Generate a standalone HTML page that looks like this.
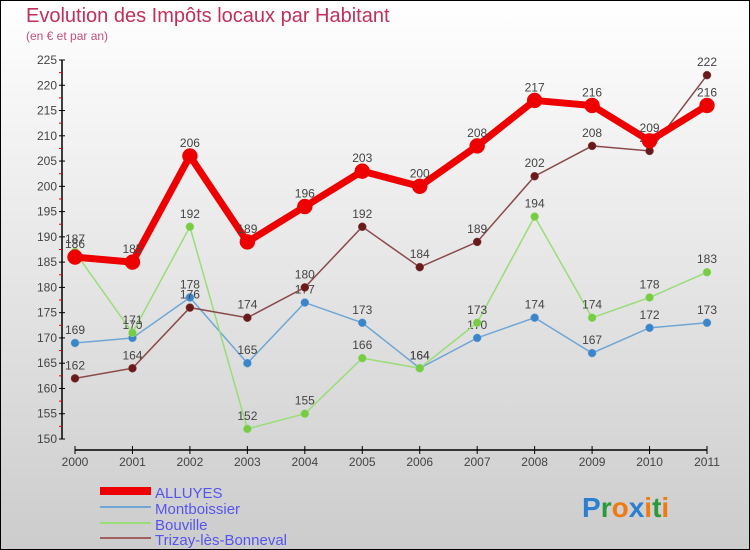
<!DOCTYPE html>
<html><head><meta charset="utf-8"><style>
body{margin:0}
#c{width:750px;height:550px;position:relative;overflow:hidden}
svg text{font-family:"Liberation Sans",sans-serif}
</style></head><body>
<div id="c">
<svg id="s" width="750" height="550" xmlns="http://www.w3.org/2000/svg">
<defs><linearGradient id="bg" x1="0" y1="0" x2="0" y2="1"><stop offset="0" stop-color="#ffffff"/><stop offset="1" stop-color="#cccccc"/></linearGradient></defs>
<rect x="0.5" y="0.5" width="749" height="549" fill="url(#bg)" stroke="#000"/>
<text x="26" y="22" font-size="20" fill="#c0305a">Evolution des Impôts locaux par Habitant</text>
<text x="26" y="40" font-size="12" fill="#c0507a">(en € et par an)</text>
<g id="axes"></g><g id="series"></g>
<g>
<rect x="100" y="487" width="51" height="8" fill="#e00"/>
<line x1="100" y1="507" x2="151" y2="507" stroke="#6fa6d6" stroke-width="2"/>
<line x1="100" y1="523" x2="151" y2="523" stroke="#99dd77" stroke-width="2"/>
<line x1="100" y1="538" x2="151" y2="538" stroke="#a06060" stroke-width="2"/>
<text x="155" y="498" font-size="15" fill="#5555ee">ALLUYES</text>
<text x="155" y="514" font-size="15" fill="#5555ee">Montboissier</text>
<text x="155" y="530" font-size="15" fill="#5555ee">Bouville</text>
<text x="155" y="545" font-size="15" fill="#5555ee">Trizay-lès-Bonneval</text>
</g>
<text x="582" y="517" font-size="28" font-weight="bold"><tspan fill="#2a7fd0">P</tspan><tspan fill="#2a9a3a">r</tspan><tspan fill="#f07a10">o</tspan><tspan fill="#2a7fd0">x</tspan><tspan fill="#f07a10">i</tspan><tspan fill="#2a9a3a">t</tspan><tspan fill="#f07a10">i</tspan></text>
</svg></div>
<script>
const years=[2000,2001,2002,2003,2004,2005,2006,2007,2008,2009,2010,2011];
const alluyes=[186,185,206,189,196,203,200,208,217,216,209,216];
const montboissier=[169,170,178,165,177,173,164,170,174,167,172,173];
const bouville=[187,171,192,152,155,166,164,173,194,174,178,183];
const trizay=[162,164,176,174,180,192,184,189,202,208,207,222];
const yTicks=[150,155,160,165,170,175,180,185,190,195,200,205,210,215,220,225];
const NS="http://www.w3.org/2000/svg";
const x=i=>75+i*(707-75)/11;
const y=v=>439-(v-150)*(379/75);
function mk(t,a,p){const e=document.createElementNS(NS,t);for(const k in a)e.setAttribute(k,a[k]);p.appendChild(e);return e;}
const ax=document.getElementById('axes');
let l=mk('line',{x1:62,y1:y(225),x2:62,y2:y(150),stroke:'#000','stroke-width':1.5},ax);

yTicks.forEach(v=>{mk('line',{x1:59,y1:y(v),x2:65,y2:y(v),stroke:'#000'},ax);
 if(v<225)mk('line',{x1:59,y1:y(v+2.5),x2:62,y2:y(v+2.5),stroke:'#e00'},ax);
 const t=mk('text',{x:57,y:y(v)+4,'font-size':12,fill:'#444','text-anchor':'end'},ax);t.textContent=v;
 });
l=mk('line',{x1:75,y1:450,x2:707,y2:450,stroke:'#000','stroke-width':1.5},ax);

years.forEach((yr,i)=>{mk('line',{x1:x(i),y1:446,x2:x(i),y2:454,stroke:'#000'},ax);
 const t=mk('text',{x:x(i),y:466,'font-size':12,fill:'#444','text-anchor':'middle'},ax);t.textContent=yr;
 });
const sg=document.getElementById('series');
function draw(vals,name,col,dot,w,r){
 const g=mk('g',{},sg);
 mk('polyline',{points:vals.map((v,i)=>x(i)+','+y(v)).join(' '),fill:'none',stroke:col,'stroke-width':w},g);
 vals.forEach((v,i)=>{const c=mk('circle',{cx:x(i),cy:y(v),r:r,fill:dot,stroke:col,'stroke-width':0.5},g);
  
  const t=mk('text',{x:x(i),y:y(v)-9,'font-size':12,fill:'#444','text-anchor':'middle'},g);t.textContent=v;
  });
}
draw(montboissier,'montboissier','#6fa6d6','#3a86c8',1.5,4);
draw(bouville,'bouville','#99dd77','#77cc44',1.5,4);
draw(trizay,'trizay','#8a4a4a','#6a1a1a',1.5,4);
draw(alluyes,'alluyes','#ee0000','#ee0000',7,7.5);
</script>
</body></html>
